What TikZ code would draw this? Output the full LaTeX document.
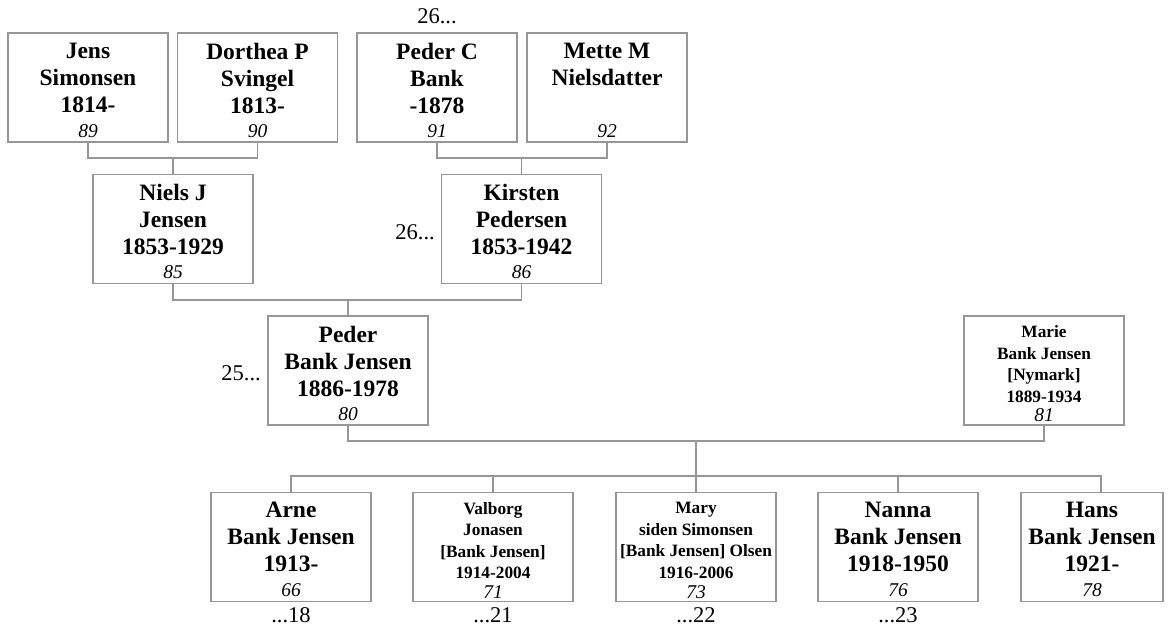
\documentclass[tikz,border=0pt]{standalone}
\usepackage{fontspec}
\setmainfont{Liberation Serif}
\definecolor{linegray}{RGB}{150,150,150}
\begin{document}
\begin{tikzpicture}[x=1pt,y=-1pt,
  person/.style={draw=linegray, line width=1.5pt, minimum width=160pt, minimum height=109pt, inner sep=0pt, outer sep=0pt},
  link/.style={draw=linegray, line width=1.5pt},
  bigname/.style={font=\fontsize{23.5}{27}\selectfont\bfseries, align=center, anchor=north, inner sep=0pt},
  smallname/.style={font=\fontsize{17.3}{21.5}\selectfont\bfseries, align=center, anchor=north, inner sep=0pt},
  num/.style={font=\fontsize{19.5}{22}\selectfont\itshape, anchor=base, inner sep=0pt},
  ext/.style={font=\fontsize{22.5}{26}\selectfont, inner sep=0pt}
]
\useasboundingbox (0,0) rectangle (1171,627);

% boxes
\node[person] (jens)    at (88,87.5) {};
\node[person] (dorthea) at (257.5,87.5) {};
\node[person] (pederc)  at (437,87.5) {};
\node[person] (mette)   at (607,87.5) {};
\node[person] (niels)   at (173,229) {};
\node[person] (kirsten) at (521.5,229) {};
\node[person] (peder)   at (348,370.5) {};
\node[person] (marie)   at (1044,370.5) {};
\node[person] (arne)    at (291,547) {};
\node[person] (valborg) at (493,547) {};
\node[person] (mary)    at (696,547) {};
\node[person] (nanna)   at (898,547) {};
\node[person, minimum width=142pt] (hans) at (1092,547) {};

% names
\node[bigname] (jensT)    at ([yshift=-9.5pt]jens.north)    {Jens\\Simonsen\\1814-};
\node[bigname] (dortheaT) at ([yshift=-9.5pt]dorthea.north) {Dorthea P\\Svingel\\1813-};
\node[bigname] (pedercT)  at ([yshift=-9.5pt]pederc.north)  {Peder C\\Bank\\-1878};
\node[bigname] (metteT)   at ([yshift=-9.5pt]mette.north)   {Mette M\\Nielsdatter};
\node[bigname] (nielsT)   at ([yshift=-9.5pt]niels.north)   {Niels J\\Jensen\\1853-1929};
\node[bigname] (kirstenT) at ([yshift=-9.5pt]kirsten.north) {Kirsten\\Pedersen\\1853-1942};
\node[bigname] (pederT)   at ([yshift=-9.5pt]peder.north)   {Peder\\Bank Jensen\\1886-1978};
\node[smallname] (marieT) at ([yshift=-9.5pt]marie.north)   {Marie\\Bank Jensen\\{[Nymark]}\\1889-1934};
\node[bigname] (arneT)    at ([yshift=-9.5pt]arne.north)    {Arne\\Bank Jensen\\1913-};
\node[smallname] (valborgT) at ([yshift=-9.5pt]valborg.north) {Valborg\\Jonasen\\{[Bank Jensen]}\\1914-2004};
\node[smallname] (maryT)  at ([yshift=-9.5pt]mary.north)    {Mary\\siden Simonsen\\{[Bank Jensen] Olsen}\\1916-2006};
\node[bigname] (nannaT)   at ([yshift=-9.5pt]nanna.north)   {Nanna\\Bank Jensen\\1918-1950};
\node[bigname] (hansT)    at ([yshift=-9.5pt]hans.north)    {Hans\\Bank Jensen\\1921-};

% numbers
\node[num] (jensN)    at ([yshift=5pt]jens.south)    {89};
\node[num] (dortheaN) at ([yshift=5pt]dorthea.south) {90};
\node[num] (pedercN)  at ([yshift=5pt]pederc.south)  {91};
\node[num] (metteN)   at ([yshift=5pt]mette.south)   {92};
\node[num] (nielsN)   at ([yshift=5pt]niels.south)   {85};
\node[num] (kirstenN) at ([yshift=5pt]kirsten.south) {86};
\node[num] (pederN)   at ([yshift=5pt]peder.south)   {80};
\node[num] (marieN)   at ([yshift=3.5pt]marie.south) {81};
\node[num] (arneN)    at ([yshift=5pt]arne.south)    {66};
\node[num] (valborgN) at ([yshift=3.5pt]valborg.south) {71};
\node[num] (maryN)    at ([yshift=3.5pt]mary.south)  {73};
\node[num] (nannaN)   at ([yshift=5pt]nanna.south)   {76};
\node[num] (hansN)    at ([yshift=5pt]hans.south)    {78};

% external references
\node[ext, anchor=base] (refA) at (437,23) {26...};
\node[ext, anchor=base east] (refB) at (435,239) {26...};
\node[ext, anchor=base east] (refC) at (261,380) {25...};
\node[ext, anchor=base] (refD) at (291,622) {...18};
\node[ext, anchor=base] (refE) at (493,622) {...21};
\node[ext, anchor=base] (refF) at (696,622) {...22};
\node[ext, anchor=base] (refG) at (898,622) {...23};

% connectors
\coordinate (b1) at (niels.north |- 0,158);
\coordinate (b2) at (kirsten.north |- 0,158);
\coordinate (b3) at (peder.north |- 0,300);
\coordinate (c1) at (mary.north |- 0,441);
\coordinate (c2) at (mary.north |- 0,476);
\coordinate (hanstop) at (1101,492);

\draw[link] (jens.south) |- (b1) -| (dorthea.south);
\draw[link] (b1) -- (niels.north);
\draw[link] (pederc.south) |- (b2) -| (mette.south);
\draw[link] (b2) -- (kirsten.north);
\draw[link] (niels.south) |- (b3) -| (kirsten.south);
\draw[link] (b3) -- (peder.north);
\draw[link] (peder.south) |- (c1) -| (marie.south);
\draw[link] (c1) -- (mary.north);
\draw[link] (arne.north) |- (c2) -| (hanstop);
\draw[link] (valborg.north) -- (valborg.north |- c2);
\draw[link] (nanna.north) -- (nanna.north |- c2);
\end{tikzpicture}
\end{document}
